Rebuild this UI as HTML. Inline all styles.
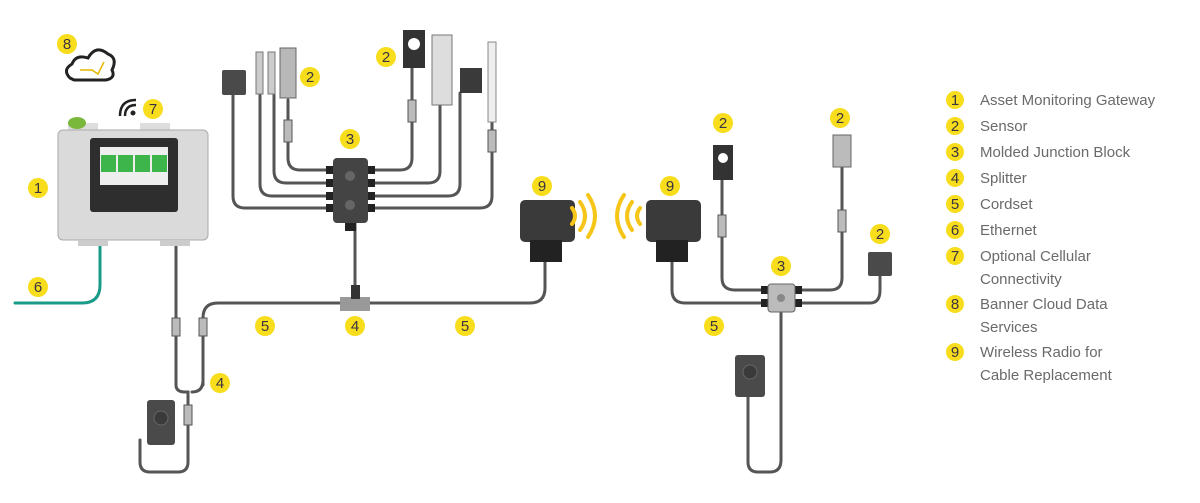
<!DOCTYPE html>
<html><head><style>
body{margin:0;background:#fff;width:1200px;height:503px;overflow:hidden}
svg{display:block}
.b circle{fill:#f7dd1c}
.b text{font:15px "Liberation Sans",sans-serif;fill:#3a3340;text-anchor:middle}
.c{fill:none;stroke:#555;stroke-width:3;stroke-linecap:round}
.lg text{font:15px "Liberation Sans",sans-serif;fill:#6a6a6a}
</style></head><body>
<svg width="1200" height="503" viewBox="0 0 1200 503">
<path class="c" d="M100 242 V285 Q100 303 82 303 H15" style="stroke:#1a9a88"/>
<path class="c" d="M176 242 V385 Q176 392 185 392 H188 V462 Q188 472 178 472 H150 Q140 472 140 462 V440"/>
<path class="c" d="M203 380 Q203 392 192 392"/>
<path class="c" d="M203 385 V318 Q203 303 218 303 H530 Q545 303 545 288 V262"/>
<path class="c" d="M355 223 V303"/>
<path class="c" d="M333 170 H300 Q288 170 288 158 V100"/>
<path class="c" d="M333 183 H286 Q274 183 274 171 V95"/>
<path class="c" d="M333 196 H272 Q260 196 260 184 V95"/>
<path class="c" d="M333 208 H245 Q233 208 233 196 V95"/>
<path class="c" d="M368 170 H400 Q412 170 412 158 V68"/>
<path class="c" d="M368 183 H428 Q440 183 440 171 V105"/>
<path class="c" d="M368 196 H448 Q460 196 460 184 V93"/>
<path class="c" d="M368 208 H480 Q492 208 492 196 V120"/>
<path class="c" d="M672 262 V290 Q672 303 685 303 H768"/>
<path class="c" d="M768 290 H735 Q722 290 722 278 V180"/>
<path class="c" d="M795 290 H830 Q842 290 842 278 V160"/>
<path class="c" d="M795 303 H870 Q880 303 880 290 V275"/>
<path class="c" d="M781 312 V460 Q781 472 770 472 H758 Q748 472 748 462 V395"/>
<g fill="#222">
<rect x="326" y="166" width="7" height="8"/><rect x="326" y="179" width="7" height="8"/><rect x="326" y="192" width="7" height="8"/><rect x="326" y="204" width="7" height="8"/>
<rect x="368" y="166" width="7" height="8"/><rect x="368" y="179" width="7" height="8"/><rect x="368" y="192" width="7" height="8"/><rect x="368" y="204" width="7" height="8"/>
<rect x="761" y="286" width="7" height="8"/><rect x="761" y="299" width="7" height="8"/><rect x="795" y="286" width="7" height="8"/><rect x="795" y="299" width="7" height="8"/>
</g>
<g fill="#bbb" stroke="#555">
<rect x="284" y="120" width="8" height="22"/><rect x="408" y="100" width="8" height="22"/><rect x="488" y="130" width="8" height="22"/>
<rect x="172" y="318" width="8" height="18"/><rect x="199" y="318" width="8" height="18"/><rect x="184" y="405" width="8" height="20"/>
<rect x="718" y="215" width="8" height="22"/><rect x="838" y="210" width="8" height="22"/>
</g>
<rect x="333" y="158" width="35" height="65" rx="4" fill="#444"/>
<circle cx="350" cy="176" r="5" fill="#666"/><circle cx="350" cy="205" r="5" fill="#666"/>
<rect x="345" y="223" width="11" height="8" fill="#222"/>
<path d="M340 297 H370 V311 H340 Z" fill="#999"/><rect x="351" y="285" width="9" height="14" fill="#333"/>
<rect x="768" y="284" width="27" height="28" rx="3" fill="#bbb" stroke="#666"/><circle cx="781" cy="298" r="4" fill="#888"/>
<rect x="222" y="70" width="24" height="25" rx="2" fill="#4a4a4a"/>
<rect x="280" y="48" width="16" height="50" fill="#b8b8b8" stroke="#666"/>
<rect x="256" y="52" width="7" height="42" fill="#ccc" stroke="#777"/><rect x="268" y="52" width="7" height="42" fill="#ccc" stroke="#777"/>
<rect x="403" y="30" width="22" height="38" fill="#333"/><circle cx="414" cy="44" r="6" fill="#fff"/>
<rect x="432" y="35" width="20" height="70" fill="#ddd" stroke="#777"/>
<rect x="460" y="68" width="22" height="25" fill="#3a3a3a"/>
<rect x="488" y="42" width="8" height="80" fill="#eee" stroke="#888"/>
<rect x="713" y="145" width="20" height="35" fill="#333"/><circle cx="723" cy="158" r="5" fill="#fff"/>
<rect x="833" y="135" width="18" height="32" fill="#bbb" stroke="#666"/>
<rect x="868" y="252" width="24" height="24" rx="2" fill="#4a4a4a"/>
<rect x="147" y="400" width="28" height="45" rx="3" fill="#4a4a4a"/><circle cx="161" cy="418" r="7" fill="#3a3a3a" stroke="#666"/>
<rect x="735" y="355" width="30" height="42" rx="3" fill="#4a4a4a"/><circle cx="750" cy="372" r="7" fill="#3a3a3a" stroke="#666"/>
<rect x="520" y="200" width="55" height="42" rx="5" fill="#3a3a3a"/><rect x="530" y="240" width="32" height="22" fill="#222"/>
<rect x="646" y="200" width="55" height="42" rx="5" fill="#3a3a3a"/><rect x="656" y="240" width="32" height="22" fill="#222"/>
<g fill="none" stroke="#f5c518" stroke-width="4" stroke-linecap="round">
<path d="M572 208 Q578 216 572 224"/><path d="M580 202 Q590 216 580 230"/><path d="M588 195 Q602 216 588 237"/>
<path d="M640 208 Q634 216 640 224"/><path d="M632 202 Q622 216 632 230"/><path d="M624 195 Q610 216 624 237"/>
</g>
<rect x="68" y="123" width="30" height="9" fill="#ddd"/><rect x="140" y="123" width="30" height="9" fill="#ddd"/>
<ellipse cx="77" cy="123" rx="9" ry="6" fill="#7ab83c"/>
<rect x="58" y="130" width="150" height="110" rx="5" fill="#dadada" stroke="#aaa"/>
<rect x="78" y="240" width="30" height="6" fill="#ccc"/><rect x="160" y="240" width="30" height="6" fill="#ccc"/>
<rect x="90" y="138" width="88" height="74" rx="3" fill="#2e2e2e"/>
<rect x="100" y="147" width="68" height="38" fill="#eee"/>
<g fill="#3db54a"><rect x="101" y="155" width="15" height="17"/><rect x="118" y="155" width="15" height="17"/><rect x="135" y="155" width="15" height="17"/><rect x="152" y="155" width="15" height="17"/></g>
<g fill="none" stroke="#222" stroke-width="2.5"><path d="M125 116 Q125 105 136 105"/><path d="M120 116 Q120 100 136 100"/></g><circle cx="133" cy="113" r="2.5" fill="#222"/>
<path d="M70 78 Q62 70 72 64 Q76 54 88 58 Q96 44 108 54 Q118 58 112 70 Q116 78 106 80 H74 Z" fill="#fff" stroke="#222" stroke-width="3"/>
<path d="M80 70 H92 L98 74 L104 62" fill="none" stroke="#e5b800" stroke-width="1.5"/>
<g class="b">
<circle cx="67" cy="44" r="10"/><text x="67" y="49">8</text>
<circle cx="153" cy="109" r="10"/><text x="153" y="114">7</text>
<circle cx="38" cy="188" r="10"/><text x="38" y="193">1</text>
<circle cx="38" cy="287" r="10"/><text x="38" y="292">6</text>
<circle cx="310" cy="77" r="10"/><text x="310" y="82">2</text>
<circle cx="386" cy="57" r="10"/><text x="386" y="62">2</text>
<circle cx="350" cy="139" r="10"/><text x="350" y="144">3</text>
<circle cx="265" cy="326" r="10"/><text x="265" y="331">5</text>
<circle cx="355" cy="326" r="10"/><text x="355" y="331">4</text>
<circle cx="465" cy="326" r="10"/><text x="465" y="331">5</text>
<circle cx="220" cy="383" r="10"/><text x="220" y="388">4</text>
<circle cx="542" cy="186" r="10"/><text x="542" y="191">9</text>
<circle cx="670" cy="186" r="10"/><text x="670" y="191">9</text>
<circle cx="723" cy="123" r="10"/><text x="723" y="128">2</text>
<circle cx="840" cy="118" r="10"/><text x="840" y="123">2</text>
<circle cx="880" cy="234" r="10"/><text x="880" y="239">2</text>
<circle cx="781" cy="266" r="10"/><text x="781" y="271">3</text>
<circle cx="714" cy="326" r="10"/><text x="714" y="331">5</text>
<circle cx="955" cy="100" r="9"/><text x="955" y="105">1</text>
<circle cx="955" cy="126" r="9"/><text x="955" y="131">2</text>
<circle cx="955" cy="152" r="9"/><text x="955" y="157">3</text>
<circle cx="955" cy="178" r="9"/><text x="955" y="183">4</text>
<circle cx="955" cy="204" r="9"/><text x="955" y="209">5</text>
<circle cx="955" cy="230" r="9"/><text x="955" y="235">6</text>
<circle cx="955" cy="256" r="9"/><text x="955" y="261">7</text>
<circle cx="955" cy="304" r="9"/><text x="955" y="309">8</text>
<circle cx="955" cy="352" r="9"/><text x="955" y="357">9</text>
</g>
<g class="lg">
<text x="980" y="105">Asset Monitoring Gateway</text>
<text x="980" y="131">Sensor</text>
<text x="980" y="157">Molded Junction Block</text>
<text x="980" y="183">Splitter</text>
<text x="980" y="209">Cordset</text>
<text x="980" y="235">Ethernet</text>
<text x="980" y="261">Optional Cellular</text>
<text x="980" y="284">Connectivity</text>
<text x="980" y="309">Banner Cloud Data</text>
<text x="980" y="332">Services</text>
<text x="980" y="357">Wireless Radio for</text>
<text x="980" y="380">Cable Replacement</text>
</g>
</svg>
</body></html>
